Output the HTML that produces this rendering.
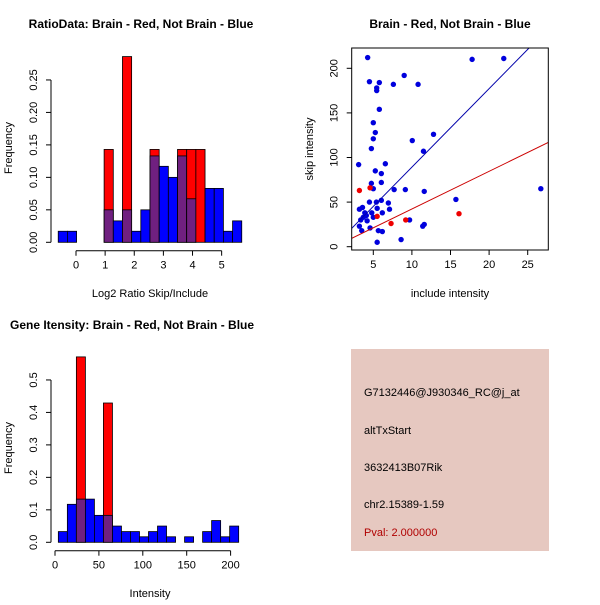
<!DOCTYPE html>
<html><head><meta charset="utf-8"><style>
body{margin:0;background:#fff}
svg{font-family:"Liberation Sans",Helvetica,sans-serif}
</style></head><body>
<svg id="svg" width="600" height="600" xmlns="http://www.w3.org/2000/svg">
<rect width="600" height="600" fill="#fff"/>
<g id="h1"></g>
<g id="sc"></g>
<g id="h2"></g>
<g>
<rect x="351" y="349" width="198" height="202" fill="#e6c8c0"/>
<text x="364" y="396" font-size="11">G7132446@J930346_RC@j_at</text>
<text x="364" y="434" font-size="11">altTxStart</text>
<text x="364" y="471" font-size="11">3632413B07Rik</text>
<text x="364" y="508" font-size="11">chr2.15389-1.59</text>
<text x="364" y="536" font-size="11" fill="#b00000">Pval: 2.000000</text>
</g>
</svg>
<script>
// ---- Histogram 1 data ----
const h1Start = -0.61, h1Width = 0.315;
const h1Blue = [0.017,0.017,0,0,0,0.05,0.033,0.05,0.017,0.05,0.133,0.117,0.10,0.133,0.067,0,0.083,0.083,0.017,0.033];
const h1Red  = [0,0,0,0,0,0.143,0,0.286,0,0,0.143,0,0,0.143,0.143,0.143,0,0,0,0];
const h1XTicks = [0,1,2,3,4,5];
const h1YTicks = ["0.00","0.05","0.10","0.15","0.20","0.25"];
// ---- Histogram 2 data ----
const h2Start = 3.8, h2Width = 10.27;
const h2Blue = [0.033,0.117,0.133,0.133,0.083,0.083,0.05,0.033,0.033,0.017,0.033,0.05,0.017,0,0.017,0,0.033,0.067,0.017,0.05];
const h2Red  = [0,0,0.571,0,0,0.429,0,0,0,0,0,0,0,0,0,0,0,0,0,0];
const h2XTicks = [0,50,100,150,200];
const h2YTicks = ["0.0","0.1","0.2","0.3","0.4","0.5"];
// ---- Scatter data ----
const blueX = [4.27,17.8,21.9,9.0,4.5,5.78,7.6,10.8,5.44,5.44,5.78,5.0,5.26,5.0,4.75,10.05,12.8,11.5,3.1,6.56,5.26,6.04,6.04,4.75,5.0,7.7,9.15,11.6,26.7,6.04,4.5,5.4,6.95,15.7,3.6,3.2,5.5,7.1,3.9,6.17,4.8,3.7,5.0,3.37,4.2,9.7,3.2,4.58,11.4,11.6,3.5,5.65,6.17,8.6,5.5,4.1];
const blueY = [212,210,211,192,185,184,182,182,178,175,154,139,128,121,110,119,126,107,92,93,85,82,72,71,65,64,64,62,65,52,50,50,49,53,44,42,43,42,38,38,38,33,33,30,29,30,23,21,23,25,18,18,17,8,5,35];
const redX = [3.2,4.58,5.5,7.3,9.2,16.1];
const redY = [63,66,34,26,30,37];
const blueFit = [1.2, 8.8];  // intercept, slope
const redFit = [0.1, 4.22];
const scXTicks = [5,10,15,20,25];
const scYTicks = [0,50,100,150,200];

const NS="http://www.w3.org/2000/svg";
function mk(parent,tag,attrs,text){const e=document.createElementNS(NS,tag);for(const k in attrs)e.setAttribute(k,attrs[k]);if(text!==undefined)e.textContent=text;parent.appendChild(e);return e;}

function hist(g,o){
  const X=v=>o.x0+(v-o.xa)*o.xs, Y=v=>o.y0-v*o.ys;
  mk(g,'text',{x:o.titleX,y:o.titleY,'font-size':12,'font-weight':'bold','text-anchor':o.titleAnchor},o.title);
  for(let i=0;i<o.blue.length;i++){
    const l=X(o.start+i*o.width), r=X(o.start+(i+1)*o.width);
    const b=o.blue[i], rd=o.red[i];
    const mx=Math.max(b,rd), mn=Math.min(b,rd);
    if(mx>0){
      const bar=mk(g,'rect',{x:l,y:Y(mx),width:r-l,height:Y(0)-Y(mx),fill:rd>b?'#ff0000':'#0000ff',stroke:'#000','stroke-width':0.8});
      
      
    }
    if(mn>0){
      const ov=mk(g,'rect',{x:l,y:Y(mn),width:r-l,height:Y(0)-Y(mn),fill:'#702080',stroke:'#000','stroke-width':0.8});
      
      
    }
  }
  const yv=o.yTicks.map(Number);
  mk(g,'line',{x1:o.yAxisX,x2:o.yAxisX,y1:Y(yv[0]),y2:Y(yv[yv.length-1]),stroke:'#000'});
  o.yTicks.forEach((t,i)=>{const y=Y(yv[i]);mk(g,'line',{x1:o.yAxisX-5,x2:o.yAxisX,y1:y,y2:y,stroke:'#000'});
    mk(g,'text',{x:0,y:0,'font-size':11,'text-anchor':'middle',transform:`translate(${o.yAxisX-14},${y}) rotate(-90)`},t);});
  const xa=o.xAxisY;
  mk(g,'line',{x1:X(o.xTicks[0]),x2:X(o.xTicks[o.xTicks.length-1]),y1:xa,y2:xa,stroke:'#000'});
  o.xTicks.forEach(t=>{const x=X(t);mk(g,'line',{x1:x,x2:x,y1:xa,y2:xa+5,stroke:'#000'});
    mk(g,'text',{x:x,y:xa+18,'font-size':11,'text-anchor':'middle'},String(t));});
  mk(g,'text',{x:o.xlabX,y:o.xlabY,'font-size':11,'text-anchor':'middle'},o.xlab);
  mk(g,'text',{x:0,y:0,'font-size':11,'text-anchor':'middle',transform:`translate(12,${o.ylabY}) rotate(-90)`},'Frequency');
}
hist(document.getElementById('h1'),{x0:76,xa:0,xs:29.13,y0:242.3,ys:649.4,start:h1Start,width:h1Width,blue:h1Blue,red:h1Red,
  xTicks:h1XTicks,yTicks:h1YTicks,yAxisX:51,xAxisY:250.7,title:'RatioData: Brain - Red, Not Brain - Blue',titleX:141,titleY:28,titleAnchor:'middle',
  xlab:'Log2 Ratio Skip/Include',xlabX:150,xlabY:297,ylabY:148});
hist(document.getElementById('h2'),{x0:55,xa:0,xs:0.878,y0:542.3,ys:324.7,start:h2Start,width:h2Width,blue:h2Blue,red:h2Red,
  xTicks:h2XTicks,yTicks:h2YTicks,yAxisX:51,xAxisY:550.7,title:'Gene Itensity: Brain - Red, Not Brain - Blue',titleX:10,titleY:329,titleAnchor:'start',
  xlab:'Intensity',xlabX:150,xlabY:597,ylabY:448});

(function(){
  const g=document.getElementById('sc');
  const X=v=>334.7+v*7.72, Y=v=>246.7-v*0.892;
  const L=351.7,R=548.3,T=48,B=250;
  mk(g,'text',{x:450,y:28,'font-size':12,'font-weight':'bold','text-anchor':'middle'},'Brain - Red, Not Brain - Blue');
  mk(g,'defs',{}).innerHTML='<clipPath id="cp"><rect x="'+L+'" y="'+T+'" width="'+(R-L)+'" height="'+(B-T)+'"/></clipPath>';
  const cg=mk(g,'g',{'clip-path':'url(#cp)'});
  for(let i=0;i<blueX.length;i++){
    const c=mk(cg,'circle',{cx:X(blueX[i]),cy:Y(blueY[i]),r:2.7,fill:'#0000dd'});
    
    
  }
  for(let i=0;i<redX.length;i++){
    const c=mk(cg,'circle',{cx:X(redX[i]),cy:Y(redY[i]),r:2.7,fill:'#ee0000'});
    
    
  }
  const xs0=0,xs1=30;
  const bl=mk(cg,'line',{x1:X(xs0),y1:Y(blueFit[0]+blueFit[1]*xs0),x2:X(xs1),y2:Y(blueFit[0]+blueFit[1]*xs1),stroke:'#0000aa','stroke-width':1});
  
  
  const rl=mk(cg,'line',{x1:X(xs0),y1:Y(redFit[0]+redFit[1]*xs0),x2:X(xs1),y2:Y(redFit[0]+redFit[1]*xs1),stroke:'#cc0000','stroke-width':1});
  
  
  mk(g,'rect',{x:L,y:T,width:R-L,height:B-T,fill:'none',stroke:'#000'});
  scXTicks.forEach(t=>{const x=X(t);mk(g,'line',{x1:x,x2:x,y1:B,y2:B+5,stroke:'#000'});
    mk(g,'text',{x:x,y:B+18,'font-size':11,'text-anchor':'middle'},String(t));});
  scYTicks.forEach(t=>{const y=Y(t);mk(g,'line',{x1:L-5,x2:L,y1:y,y2:y,stroke:'#000'});
    mk(g,'text',{x:0,y:0,'font-size':11,'text-anchor':'middle',transform:`translate(${L-14},${y}) rotate(-90)`},String(t));});
  mk(g,'text',{x:450,y:297,'font-size':11,'text-anchor':'middle'},'include intensity');
  mk(g,'text',{x:0,y:0,'font-size':11,'text-anchor':'middle',transform:'translate(313,149) rotate(-90)'},'skip intensity');
})();
</script>
</body></html>
